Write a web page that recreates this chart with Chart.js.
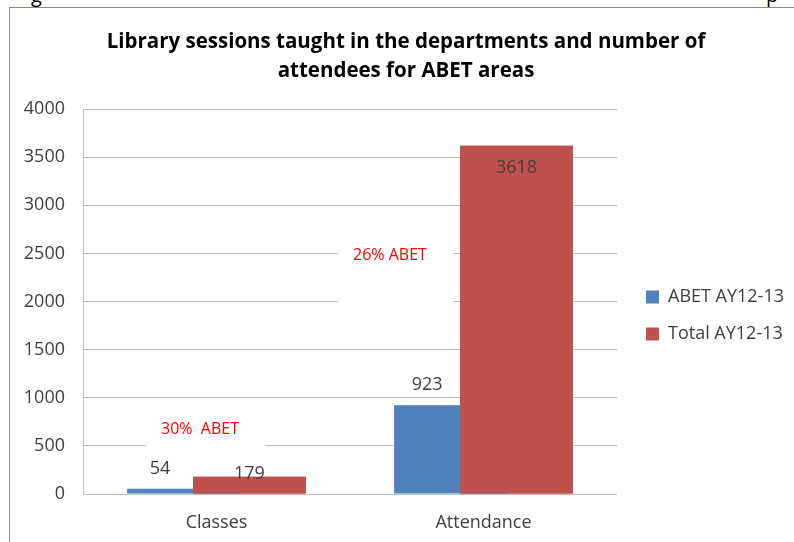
<!DOCTYPE html>
<html>
<head>
<meta charset="utf-8">
<script src="https://cdn.jsdelivr.net/npm/chart.js@4.4.0/dist/chart.umd.min.js"></script>
<style>
  html, body { margin: 0; padding: 0; background: #fff; overflow: hidden; }
  body { width: 794px; height: 542px; position: relative; font-family: "Open Sans", sans-serif; }
  .frame { position: absolute; left: 9px; top: 7px; width: 820px; height: 600px; border: 1px solid #8a8a8a; box-sizing: border-box; }
  .cut { position: absolute; font-size: 20px; line-height: 20px; color: #000; }
  #chart { position: absolute; left: 10px; top: 8px; }
</style>
</head>
<body>
<span class="cut" style="left:31px; top:-15px">g</span>
<span class="cut" style="left:766px; top:-15px">p</span>
<div class="frame"></div>
<canvas id="chart" width="790" height="534"></canvas>
<script>
const categories = ['Classes', 'Attendance'];
const abetValues = [54, 923];
const totalValues = [179, 3618];
const seriesNames = ['ABET AY12-13', 'Total AY12-13'];
const yTicks = [0, 500, 1000, 1500, 2000, 2500, 3000, 3500, 4000];
const titleLines = ['Library sessions taught in the departments and number of', 'attendees for ABET areas'];
const notes = ['30%  ABET', '26% ABET'];

const FONT = '"Open Sans", sans-serif';

// value labels: blue above its visible part, red inside the top (or on it when short)
const barLabels = {
    id: 'barLabels',
    afterDatasetsDraw(chart) {
        const ctx = chart.ctx;
        const blue = chart.getDatasetMeta(0);
        const red = chart.getDatasetMeta(1);
        // red is drawn over blue, as in the original
        red.controller.draw();
        ctx.save();
        ctx.font = '18px ' + FONT;
        ctx.fillStyle = '#404040';
        ctx.textAlign = 'center';
        ctx.textBaseline = 'middle';
        blue.data.forEach((bar, i) => {
            const r = red.data[i];
            const x = (bar.x - bar.width / 2 + r.x - r.width / 2) / 2;
            ctx.fillText(abetValues[i], x, bar.y - 20);
        });
        red.data.forEach((bar, i) => {
            const h = bar.base - bar.y;
            ctx.fillText(totalValues[i], bar.x, h > 44 ? bar.y + 22 : bar.y - 3);
        });
        ctx.restore();
    }
};

// red percentage notes sitting in white boxes over the grid
const abetNotes = {
    id: 'abetNotes',
    beforeDatasetsDraw(chart, args, opts) {
        const {ctx, scales} = chart;
        ctx.save();
        ctx.font = '16px ' + FONT;
        ctx.textAlign = 'center';
        ctx.textBaseline = 'middle';
        notes.forEach((text, i) => {
            const cx = scales.x.getPixelForValue(i) + opts.dx[i];
            const cy = scales.y.getPixelForValue(opts.levels[i]);
            const w = ctx.measureText(text).width;
            ctx.fillStyle = '#fff';
            ctx.fillRect(cx - w / 2 - 15, cy - 20, w + 41, 68);
            ctx.fillStyle = '#ff0000';
            ctx.fillText(text, cx, cy);
        });
        ctx.restore();
    }
};

// nudge legend away from the plot, and centre the title on the frame
const boxShift = {
    id: 'boxShift',
    afterLayout(chart, args, opts) {
        const lg = chart.legend;
        lg.left += opts.legendX; lg.right += opts.legendX;
        lg.top += opts.legendY; lg.bottom += opts.legendY;
        const t = chart.titleBlock;
        t.left += opts.titleX; t.right += opts.titleX;
    }
};

new Chart(document.getElementById('chart'), {
    type: 'bar',
    data: {
        labels: categories,
        datasets: [{
            label: seriesNames[0],
            data: abetValues,
            backgroundColor: '#4F81BD',
            borderWidth: 0
        }, {
            label: seriesNames[1],
            data: totalValues,
            backgroundColor: '#C0504D',
            borderWidth: 0
        }]
    },
    plugins: [abetNotes, barLabels, boxShift],
    options: {
        responsive: false,
        animation: false,
        categoryPercentage: 0.494,
        barPercentage: 1.71,
        layout: { padding: { left: 0, top: 0, bottom: 0, right: 16 } },
        scales: {
            x: {
                grid: { display: false },
                border: { display: true, color: '#bfbfbf' },
                ticks: { font: { family: FONT, size: 18 }, color: '#404040', padding: 10 },
                afterFit: s => { s.height = 48; }
            },
            y: {
                min: 0,
                max: 4000,
                afterBuildTicks: s => { s.ticks = yTicks.map(v => ({ value: v })); },
                grid: { color: '#bfbfbf', drawTicks: false },
                border: { display: true, color: '#bfbfbf' },
                ticks: {
                    font: { family: FONT, size: 18 },
                    color: '#404040',
                    padding: 18,
                    callback: value => String(value)
                },
                afterFit: s => { s.width = 73; }
            }
        },
        plugins: {
            title: {
                display: true,
                text: titleLines,
                color: '#000',
                font: { family: FONT, size: 20.5, weight: 'bold', lineHeight: 1.415 },
                padding: { top: 19.5, bottom: 23.5 }
            },
            legend: {
                position: 'right',
                fullSize: false,
                labels: {
                    boxWidth: 13,
                    boxHeight: 13,
                    padding: 19,
                    color: '#404040',
                    font: { family: FONT, size: 18 }
                }
            },
            tooltip: { enabled: false },
            abetNotes: { dx: [-16.5, -93.5], levels: [675, 2483] },
            boxShift: { legendX: 10, legendY: 14, titleX: 9 }
        }
    }
});
</script>
</body>
</html>
